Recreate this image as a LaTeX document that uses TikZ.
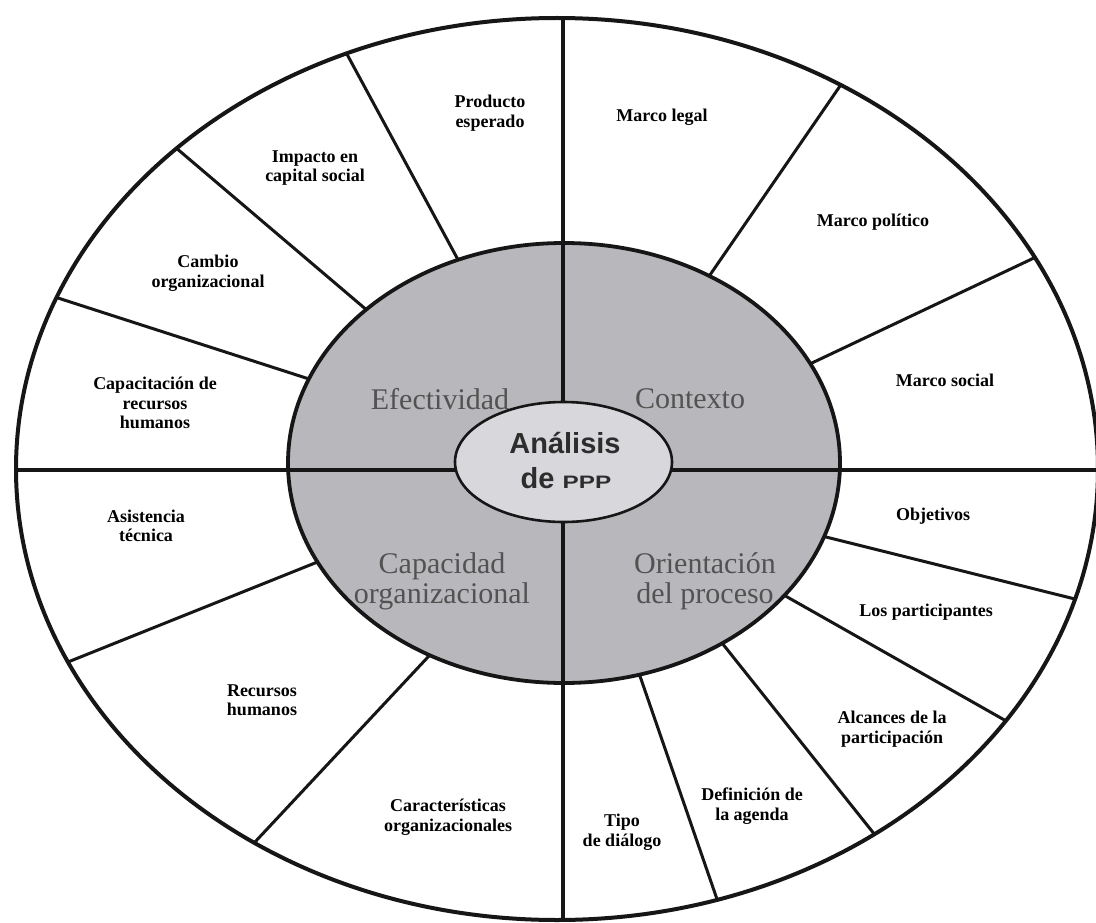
\documentclass[tikz,border=0pt]{standalone}
\usepackage{fontspec}
\setmainfont{Liberation Serif}
\newfontfamily\coresans{Liberation Sans}
\usetikzlibrary{calc,intersections}
\definecolor{ringgray}{RGB}{184,184,188}
\definecolor{coregray}{RGB}{216,216,220}
\definecolor{labelgray}{RGB}{82,82,82}
\definecolor{coretext}{RGB}{45,45,45}
\definecolor{inkline}{RGB}{22,22,22}
\begin{document}
\begin{tikzpicture}[x=1pt,y=-1pt,
  ink/.style={draw=inkline,line width=3.8pt},
  spoke/.style={draw=inkline,line width=3pt},
  small/.style={font=\fontsize{18}{19.5}\selectfont\bfseries,align=center,inner sep=0pt,text=black},
  big/.style={font=\fontsize{30}{30}\selectfont,align=center,inner sep=0pt,text=labelgray},
  core/.style={font=\coresans\bfseries\fontsize{29}{29}\selectfont,inner sep=0pt,text=coretext,anchor=base},
]
\useasboundingbox (0,0) rectangle (1096,923);
\fill[white] (0,0) rectangle (1096,923);

\coordinate (O) at (557,469);
\coordinate (C) at (564,463);
\path[name path=outer] (O) ellipse [x radius=541pt, y radius=451pt];

% spokes: inner point and a point giving the direction
\coordinate (s1i) at (456,256);  \coordinate (s1d) at (349,58);
\coordinate (s2i) at (362,306);  \coordinate (s2d) at (182,153);
\coordinate (s3i) at (306,378);  \coordinate (s3d) at (58,298);
\coordinate (s4i) at (712,272);  \coordinate (s4d) at (840,86);
\coordinate (s5i) at (814,362);  \coordinate (s5d) at (1036,257);
\coordinate (s6i) at (826,537);  \coordinate (s6d) at (1079,600);
\coordinate (s7i) at (789,598);  \coordinate (s7d) at (1008,722);
\coordinate (s8i) at (726,648);  \coordinate (s8d) at (875,835);
\coordinate (s9i) at (641,679);  \coordinate (s9d) at (718,902);
\coordinate (s10i) at (315,563); \coordinate (s10d) at (68,662);
\coordinate (s11i) at (428,657); \coordinate (s11d) at (255,842);

\foreach \k in {1,...,11}{
  \path[name path=ray] ($(s\k i)!-25pt!(s\k d)$) -- ($(s\k i)!1.6!(s\k d)$);
  \path[name intersections={of=outer and ray, by={s\k o}}];
  \draw[spoke] ($(s\k i)!-25pt!(s\k d)$) -- (s\k o);
}

% dividers end points on the outer ellipse
\path[name path=vline] (563,0) -- (563,930);
\path[name path=hline] (0,470) -- (1110,470);
\path[name intersections={of=outer and vline, by={T,B}}];
\path[name intersections={of=outer and hline, by={L,R}}];

% gray ring
\draw[ink,fill=ringgray] (C) ellipse [x radius=276pt, y radius=220pt];

% dividers
\draw[ink] (T) -- (B);
\draw[ink] (L) -- (R);

% core ellipse
\draw[draw=inkline,line width=2.6pt,fill=coregray] (563.5,462) ellipse [x radius=108.5pt, y radius=60pt];

% outer boundary
\draw[ink,line width=4pt] (O) ellipse [x radius=541pt, y radius=451pt];

% core labels
\node[core] (an) at (565,453) {Análisis};
\node[core] (de) at (566,488) {de \fontsize{18}{18}\selectfont\scalebox{1.35}[1]{PPP}};

% ring labels
\node[big] (ef) at (440,399) {Efectividad};
\node[big] (co) at (690,399) {Contexto};
\node[big] (ca) at (442,581) {Capacidad\\organizacional};
\node[big] (or) at (705,581) {Orientación\\del proceso};

% outer labels
\node[small] (pe) at (490,113) {Producto\\esperado};
\node[small] (ic) at (315,168) {Impacto en\\capital social};
\node[small] (cb) at (208,273) {Cambio\\organizacional};
\node[small] (cr) at (155,403) {Capacitación de\\recursos\\humanos};
\node[small] (ml) at (662,117) {Marco legal};
\node[small] (mp) at (873,222) {Marco político};
\node[small] (ms) at (945,380) {Marco social};
\node[small] (at) at (146,526) {Asistencia\\técnica};
\node[small] (rh) at (262,700) {Recursos\\humanos};
\node[small] (co2) at (448,817) {Características\\organizacionales};
\node[small] (ob) at (933,516) {Objetivos};
\node[small] (lp) at (926,612) {Los participantes};
\node[small] (al) at (892,729) {Alcances de la\\participación};
\node[small] (da) at (752,806) {Definición de\\la agenda};
\node[small] (td) at (622,832) {Tipo\\de diálogo};
\end{tikzpicture}
\end{document}
